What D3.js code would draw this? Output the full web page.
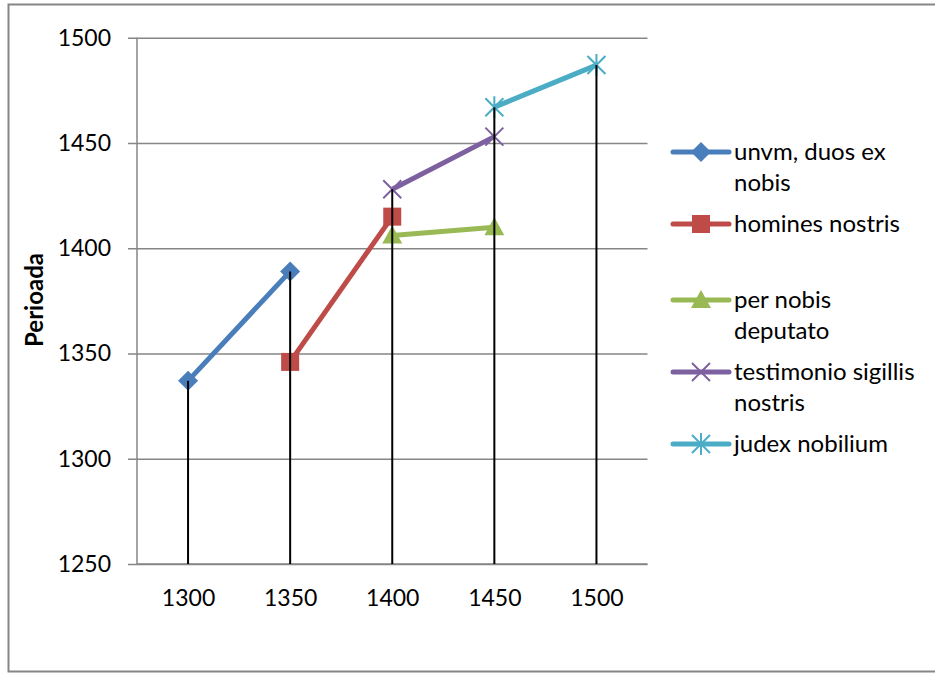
<!doctype html>
<html lang="en">
  <head>
    <meta charset="utf-8">
    <title>Perioada</title>
    <style>
      body{margin:0;background:#fff;}
      svg{display:block;font-family:Lato, "Open Sans", sans-serif;}
    </style>
  </head>
  <body>
    <div class="holder"></div>
    <script src="https://cdn.jsdelivr.net/npm/d3@7"></script>
    <script>
      // categories and series values (null = no point)
      var years = ["1300", "1350", "1400", "1450", "1500"];
      var yTicks = [1250, 1300, 1350, 1400, 1450, 1500];

      var names = ["unvm, duos ex nobis", "homines nostris", "per nobis deputato",
                   "testimonio sigillis nostris", "judex nobilium"];
      var legendLines = [["unvm, duos ex", "nobis"], ["homines nostris"], ["per nobis", "deputato"],
                         ["testimonio sigillis", "nostris"], ["judex nobilium"]];
      var unvm       = [1337, 1389, null, null, null];
      var homines    = [null, 1346, 1415, null, null];
      var perNobis   = [null, null, 1406, 1410, null];
      var testimonio = [null, null, 1428, 1453, null];
      var judex      = [null, null, null, 1467, 1487];

      var colors  = ["#4A7EBB", "#BE4B48", "#98B954", "#7D60A0", "#4BACC6"];
      var symbols = ["diamond", "square", "triangle", "x", "star"];

      var seriesValues = [unvm, homines, perNobis, testimonio, judex];

      var width = 935, height = 673;
      var plotL = 137, plotR = 647.5, plotT = 37.7, plotB = 564;

      var svg = d3.select(".holder").append("svg")
          .attr("width", width)
          .attr("height", height);

      // chart border
      svg.append("rect")
          .attr("x", 8.5).attr("y", 4.5)
          .attr("width", 940).attr("height", 667)
          .attr("fill", "none")
          .attr("stroke", "#868686")
          .attr("stroke-width", 2);

      var x = d3.scalePoint().domain(years).range([plotL, plotR]).padding(0.5);
      var y = d3.scaleLinear().domain([1250, 1500]).range([plotB, plotT]);

      // gridlines + y axis
      var yAxis = d3.axisLeft(y).tickValues(yTicks).tickSize(-(plotR - plotL)).tickPadding(26)
          .tickFormat(d3.format("d"));
      var gy = svg.append("g").attr("transform", "translate(" + plotL + ",0)").call(yAxis);
      gy.select(".domain").remove();
      gy.selectAll(".tick line")
          .attr("x1", -9)
          .attr("stroke", "#868686").attr("stroke-width", 1.5);
      gy.selectAll(".tick text")
          .attr("font-size", 23).attr("fill", "#000")
          .style("font-family", "Lato, sans-serif");

      svg.append("line")
          .attr("x1", plotL).attr("x2", plotL).attr("y1", plotT).attr("y2", plotB)
          .attr("stroke", "#868686").attr("stroke-width", 1.5);
      svg.append("line")
          .attr("x1", plotL).attr("x2", plotR).attr("y1", plotB).attr("y2", plotB)
          .attr("stroke", "#868686").attr("stroke-width", 1.5);

      // x labels
      var xAxis = d3.axisBottom(x).tickSize(0).tickPadding(26);
      var gx = svg.append("g").attr("transform", "translate(0," + plotB + ")").call(xAxis);
      gx.select(".domain").remove();
      gx.selectAll(".tick text")
          .attr("font-size", 23).attr("fill", "#000")
          .style("font-family", "Lato, sans-serif");

      // y title
      svg.append("text")
          .attr("transform", "translate(43,300) rotate(-90)")
          .attr("text-anchor", "middle")
          .attr("font-size", 24)
          .attr("font-weight", "bold")
          .text("Perioada");

      function marker(g, type, color) {
        var s = 10;
        if (type == "diamond") {
          g.append("path").attr("d", "M0," + (-s) + "L" + s + ",0L0," + s + "L" + (-s) + ",0Z").attr("fill", color);
        } else if (type == "square") {
          g.append("rect").attr("x", -9).attr("y", -9).attr("width", 18).attr("height", 18).attr("fill", color);
        } else if (type == "triangle") {
          g.append("path").attr("d", "M0,-10L10,8L-10,8Z").attr("fill", color);
        } else if (type == "x") {
          g.append("path").attr("d", "M-9,-9L9,9M-9,9L9,-9").attr("stroke", color).attr("stroke-width", 2);
        } else {
          g.append("path").attr("d", "M-9,-9L9,9M-9,9L9,-9M0,-11L0,11").attr("stroke", color).attr("stroke-width", 2);
        }
      }

      var line = d3.line()
          .defined(function(d){ return d != null; })
          .x(function(d, i){ return x(years[i]); })
          .y(function(d){ return y(d); });

      seriesValues.forEach(function(vals, si) {
        svg.append("path")
            .attr("d", line(vals))
            .attr("fill", "none")
            .attr("stroke", colors[si])
            .attr("stroke-width", 5);
        vals.forEach(function(v, i) {
          if (v == null) return;
          var g = svg.append("g").attr("transform", "translate(" + x(years[i]) + "," + y(v) + ")");
          marker(g, symbols[si], colors[si]);
        });
      });

      // drop lines from highest point to the axis
      years.forEach(function(yr, i) {
        var hi = d3.max(seriesValues, function(s){ return s[i]; });
        svg.append("line")
            .attr("x1", x(yr)).attr("x2", x(yr))
            .attr("y1", y(hi)).attr("y2", plotB)
            .attr("stroke", "#000").attr("stroke-width", 2);
      });

      // legend
      var legendY = [152, 224, 300, 372, 444];
      legendLines.forEach(function(lines, i) {
        var g = svg.append("g").attr("transform", "translate(673," + legendY[i] + ")");
        g.append("line").attr("x1", 0).attr("x2", 56)
            .attr("stroke", colors[i]).attr("stroke-width", 5).attr("stroke-linecap", "round");
        var m = g.append("g").attr("transform", "translate(28,0)");
        marker(m, symbols[i], colors[i]);
        var t = g.append("text").attr("x", 61).attr("y", 8).attr("font-size", 24);
        lines.forEach(function(l, j) {
          t.append("tspan").attr("x", 61).attr("dy", j == 0 ? 0 : 31).text(l);
        });
      });
    </script>
  </body>
</html>
